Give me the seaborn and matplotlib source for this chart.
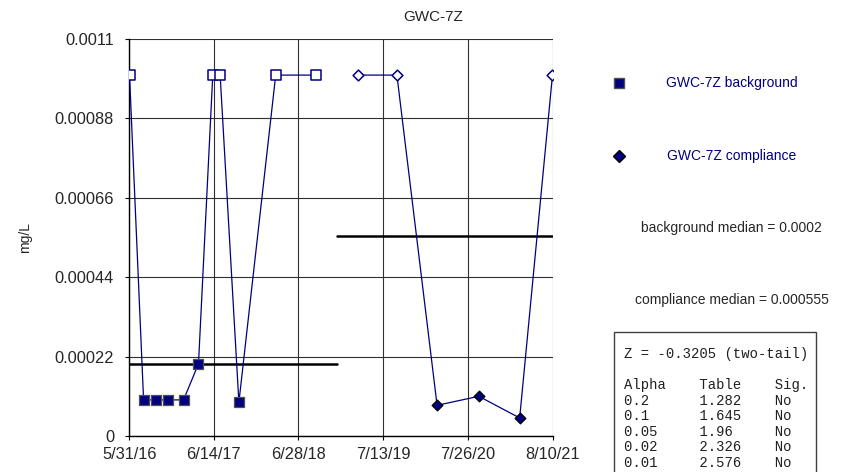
import numpy as np
import pandas as pd
import seaborn as sns
import matplotlib.pyplot as plt
import matplotlib.dates as mdates
from matplotlib.lines import Line2D
from matplotlib.patches import Rectangle

# background samples (nondetects plotted as open markers)
bg_dates = ["2016-06-01", "2016-08-03", "2016-09-26", "2016-11-20", "2017-01-29", "2017-04-06",
            "2017-06-09", "2017-07-12", "2017-10-04", "2018-03-18", "2018-09-13"]
bg_values = [0.001, 0.0001, 0.0001, 0.0001, 0.0001, 0.0002, 0.001, 0.001, 0.000093, 0.001, 0.001]
bg_nondetect = [True, False, False, False, False, False, True, True, False, True, True]

# compliance samples
cp_dates = ["2019-03-20", "2019-09-12", "2020-03-10", "2020-09-13", "2021-03-15", "2021-08-09"]
cp_values = [0.001, 0.001, 0.000085, 0.00011, 0.00005, 0.001]
cp_nondetect = [True, True, False, False, False, True]

bg_median = 0.0002
cp_median = 0.000555

x_tick_labels = ["5/31/16", "6/14/17", "6/28/18", "7/13/19", "7/26/20", "8/10/21"]
y_ticks = [0, 0.00022, 0.00044, 0.00066, 0.00088, 0.0011]
y_tick_labels = ["0", "0.00022", "0.00044", "0.00066", "0.00088", "0.0011"]

z_line = "Z = -0.3205 (two-tail)"
alphas = ["0.2", "0.1", "0.05", "0.02", "0.01"]
table_vals = ["1.282", "1.645", "1.96", "2.326", "2.576"]
sig = ["No", "No", "No", "No", "No"]

NAVY = "#000080"
W, H = 850, 472

sns.set_style("white")
plt.rcParams["font.family"] = ["Liberation Sans", "DejaVu Sans"]

fig = plt.figure(figsize=(W / 100, H / 100), dpi=100)
ax = fig.add_axes([129.3 / W, 1 - 436 / H, (552.7 - 129.3) / W, (436 - 39) / H])

bg = pd.DataFrame({"date": pd.to_datetime(bg_dates), "value": bg_values, "nd": bg_nondetect})
cp = pd.DataFrame({"date": pd.to_datetime(cp_dates), "value": cp_values, "nd": cp_nondetect})
x_ticks = pd.to_datetime(x_tick_labels, format="%m/%d/%y")


def draw_series(df, marker, size, edge_filled):
    sns.lineplot(data=df, x="date", y="value", ax=ax, color=NAVY, lw=0.9, sort=False, zorder=3)
    det = df[~df["nd"]]
    nd = df[df["nd"]]
    sns.scatterplot(data=det, x="date", y="value", ax=ax, marker=marker, s=size,
                    color=NAVY, edgecolor=edge_filled, linewidth=0.9, zorder=4)
    sns.scatterplot(data=nd, x="date", y="value", ax=ax, marker=marker, s=size,
                    color="white", edgecolor=NAVY, linewidth=1.1, zorder=4)


draw_series(bg, "s", 52, "#505050")
draw_series(cp, "D", 30, "black")

# median lines split midway between the two periods
split = bg["date"].iloc[-1] + (cp["date"].iloc[0] - bg["date"].iloc[-1]) / 2
ax.plot([x_ticks[0], split], [bg_median, bg_median], color="black", lw=1.8, zorder=2)
ax.plot([split, x_ticks[-1]], [cp_median, cp_median], color="black", lw=1.8, zorder=2)

ax.set_xlim(x_ticks[0], x_ticks[-1])
ax.set_ylim(0, 0.0011)
ax.set_xticks(x_ticks)
ax.set_xticklabels(x_tick_labels)
ax.set_yticks(y_ticks)
ax.set_yticklabels(y_tick_labels)
ax.grid(True, color="#303030", lw=0.8)
ax.set_axisbelow(True)
for side in ["top", "right"]:
    ax.spines[side].set_visible(False)
for side in ["left", "bottom"]:
    ax.spines[side].set_color("black")
    ax.spines[side].set_linewidth(1.0)
ax.tick_params(axis="both", direction="out", length=3, width=0.8, color="black",
               labelsize=11.8, bottom=True, left=True)
ax.tick_params(axis="x", pad=5)
ax.tick_params(axis="y", pad=8)
ax.set_xlabel("")
ax.set_ylabel("")

fig.text(433 / W, 1 - 17 / H, "GWC-7Z", ha="center", va="center", fontsize=11)
fig.text(25 / W, 1 - 237.5 / H, "mg/L", ha="center", va="center", rotation=90, fontsize=10)

# legend block
fig.add_artist(Line2D([619 / W], [1 - 82.7 / H], transform=fig.transFigure, marker="s",
                      markersize=7.5, markerfacecolor=NAVY, markeredgecolor="#505050", lw=0))
fig.add_artist(Line2D([619 / W], [1 - 156 / H], transform=fig.transFigure, marker="D",
                      markersize=6, markerfacecolor=NAVY, markeredgecolor="black", lw=0))
fig.text(731.5 / W, 1 - 82.7 / H, "GWC-7Z background", ha="center", va="center", fontsize=10, color=NAVY)
fig.text(731.5 / W, 1 - 156 / H, "GWC-7Z compliance", ha="center", va="center", fontsize=10, color=NAVY)
fig.text(731.5 / W, 1 - 227.7 / H, f"background median = {bg_median}", ha="center", va="center", fontsize=10)
fig.text(731.5 / W, 1 - 300 / H, f"compliance median = {cp_median}", ha="center", va="center", fontsize=10)

# statistics box
fig.add_artist(Rectangle((614 / W, -0.05), (816 - 614) / W, 1 - 332 / H + 0.05,
                         transform=fig.transFigure, fill=False, edgecolor="#404040", lw=1.0))
lines = [z_line, "", "Alpha".ljust(9) + "Table".ljust(9) + "Sig."]
lines += [a.ljust(9) + t.ljust(9) + s for a, t, s in zip(alphas, table_vals, sig)]
for i, line in enumerate(lines):
    fig.text(624 / W, 1 - (354.3 + i * 15.5) / H, line, ha="left", va="center",
             fontsize=10, family="Liberation Mono", color="#202020")

fig.savefig("out.png", dpi=100)
